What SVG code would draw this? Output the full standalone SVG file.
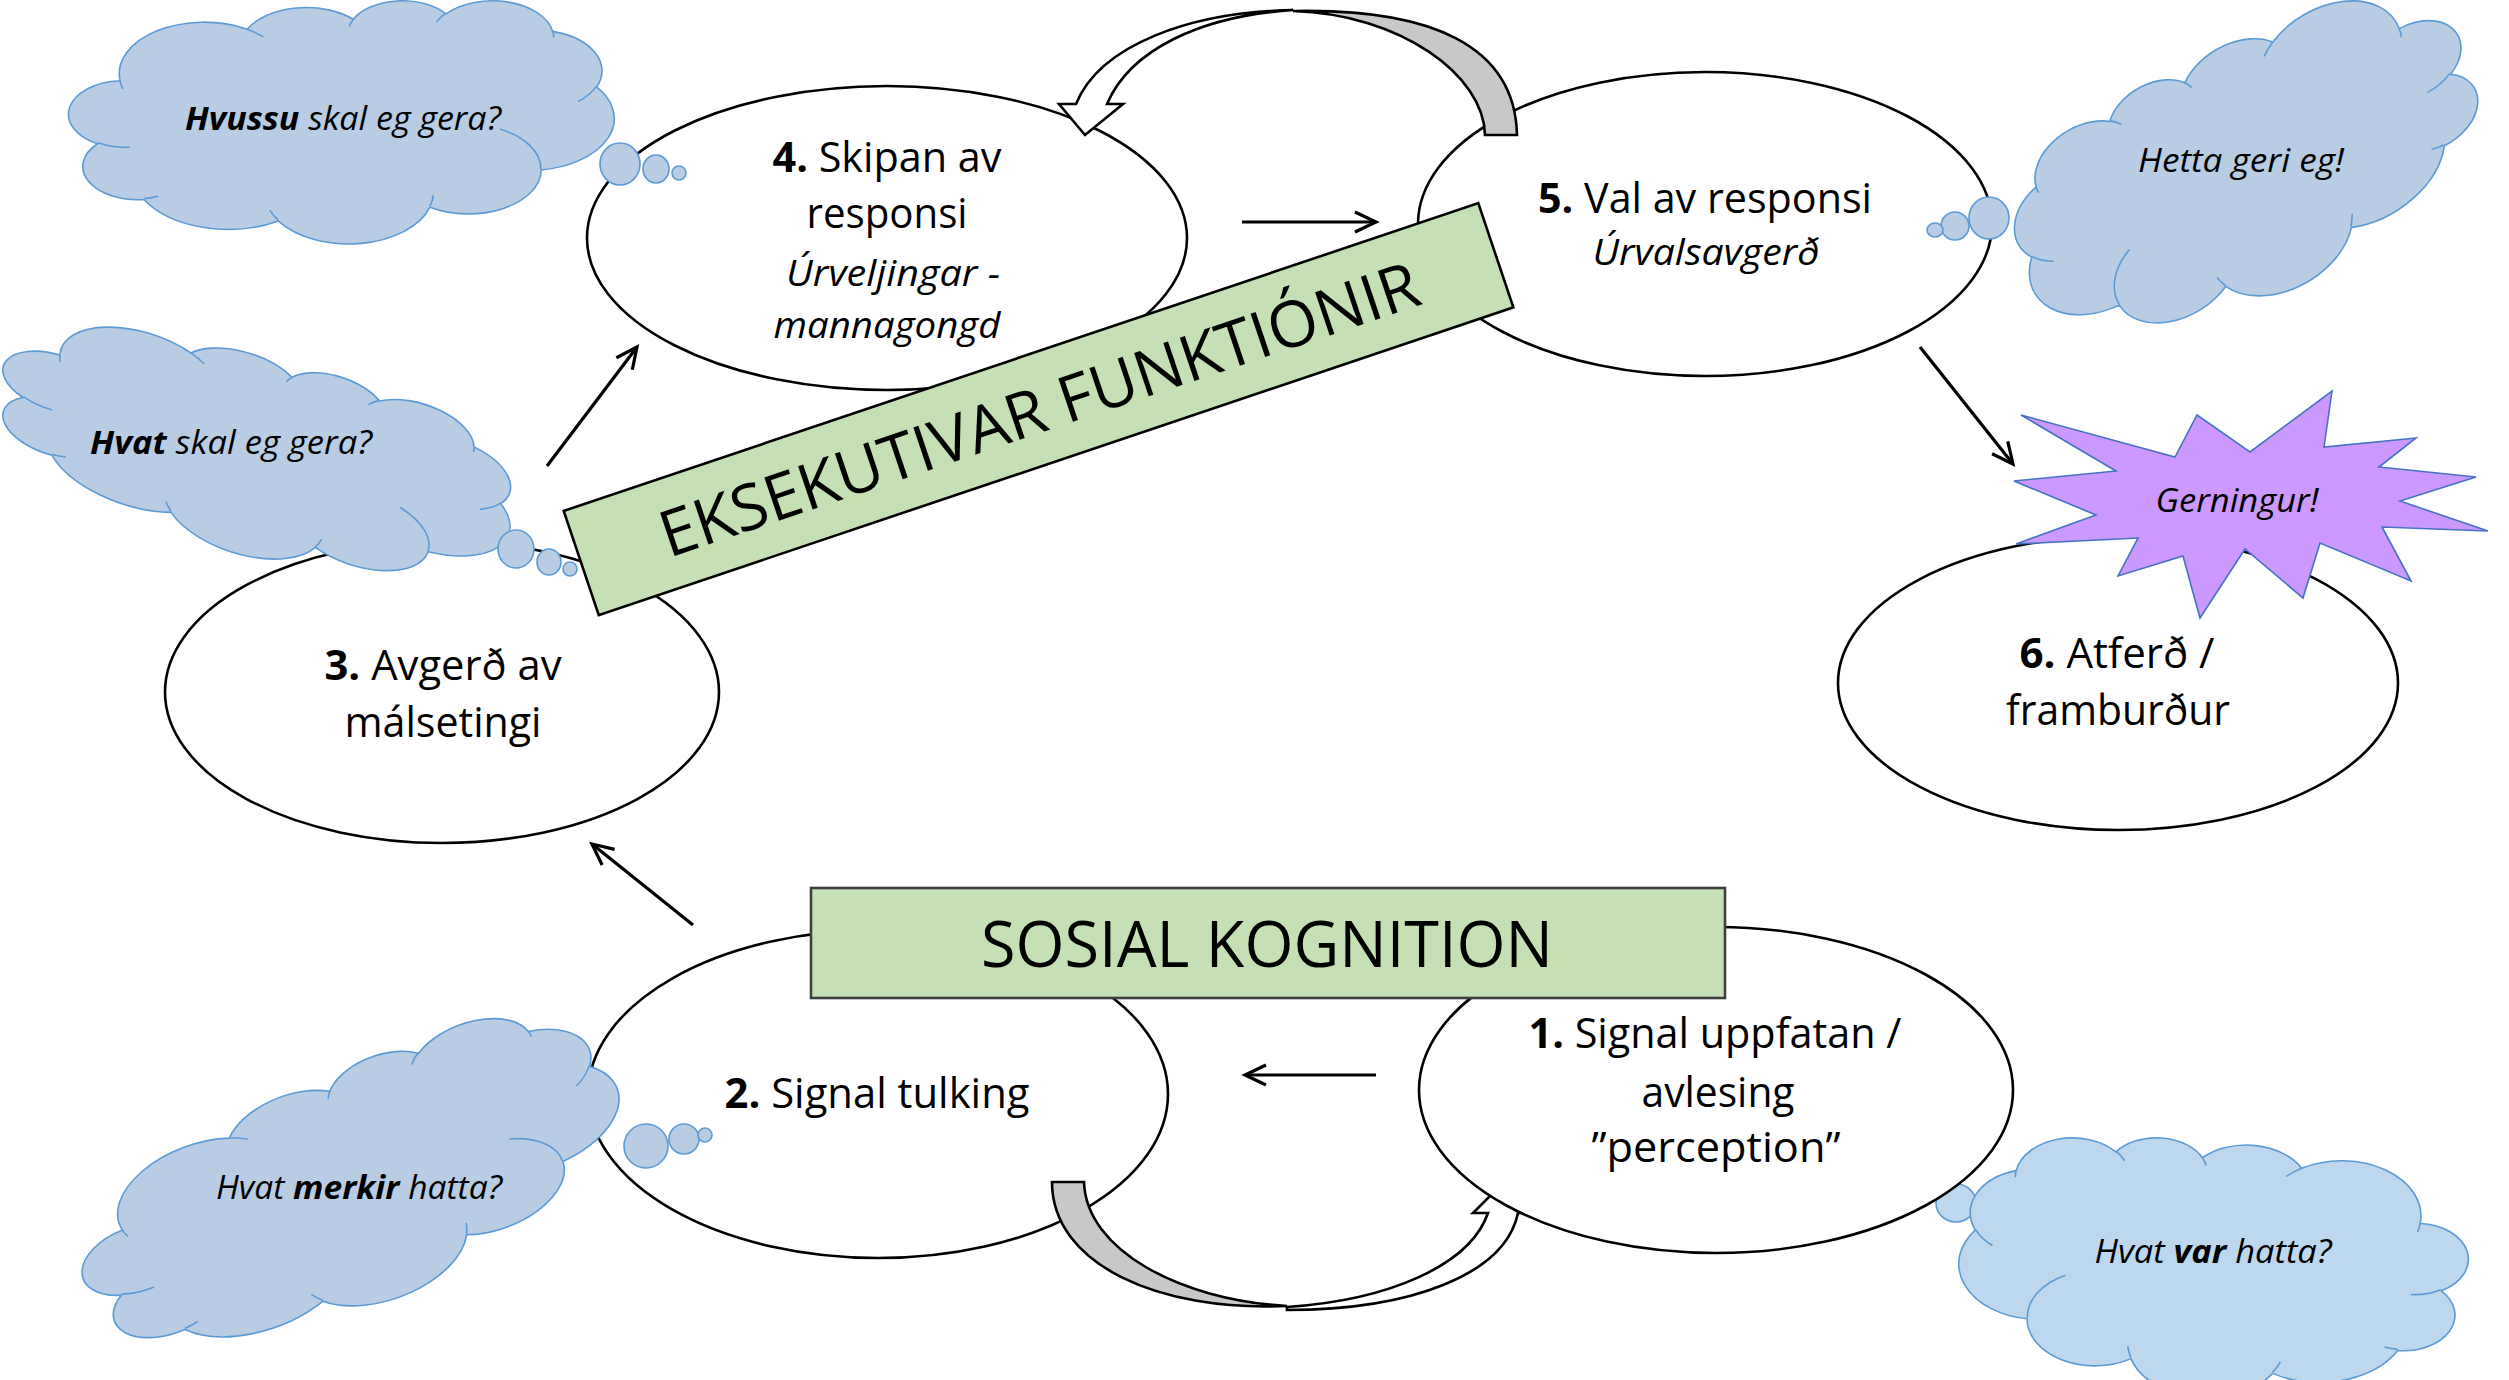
<svg xmlns="http://www.w3.org/2000/svg" width="2509" height="1380" viewBox="0 0 2509 1380">
<defs>
<style>
.node{fill:#fff;stroke:#000;stroke-width:2.6}
.t{font-family:"Open Sans","Liberation Sans",sans-serif;font-size:42px;fill:#000}
.it{font-style:italic;font-size:36px}
.ct{font-family:"Open Sans","Liberation Sans",sans-serif;font-size:32px;font-style:italic;fill:#000}
.b{font-weight:700}
.cloud{fill:#b8cce4;stroke:#5b9bd5}
.cloud2{fill:#bdd7ee;stroke:#5b9bd5}
.bub{stroke-width:1.6}
.band{stroke:#000;stroke-width:2.6;stroke-linejoin:miter}
.label{fill:#c5e0b4}
.conn{stroke:#000;stroke-width:3.2;fill:none;marker-end:url(#arr)}
.star{fill:#cc99ff;stroke:#4472c4;stroke-width:1.6}
</style>
<path id="cl" vector-effect="non-scaling-stroke" stroke-width="1.6" d="M9.03,33.26 A15.63,21.27 0 0 1 32.42,12.04 A12.34,16.82 0 0 1 51.98,7.95 A10.10,13.76 0 0 1 69.06,5.75 A11.24,15.27 0 0 1 88.70,12.92 A12.34,16.84 0 0 1 96.80,35.80 A15.68,21.34 0 0 1 86.59,69.93 A13.39,18.21 0 0 1 66.10,85.24 A15.63,21.33 0 0 1 38.15,90.91 A17.87,24.41 0 0 1 13.43,82.12 A10.09,13.70 0 0 1 4.89,59.16 A10.06,13.76 0 0 1 9.03,33.26 Z"/>
<path id="ci" fill="none" vector-effect="non-scaling-stroke" stroke-width="1.6" d="M10.86,60.60 A10.06,13.76 0 0 1 5.00,58.75 M16.04,80.78 A10.09,13.70 0 0 1 13.47,81.67 M38.14,90.49 A15.63,21.33 0 0 1 36.60,86.46 M66.73,80.44 A15.63,21.33 0 0 1 66.11,84.86 M79.00,53.13 A13.39,18.21 0 0 1 86.53,69.65 M96.75,35.54 A12.34,16.84 0 0 1 93.40,41.74 M88.71,12.56 A11.24,15.27 0 0 1 88.89,15.49 M67.31,9.15 A11.24,15.27 0 0 1 69.03,5.41 M51.25,10.93 A10.10,13.76 0 0 1 52.08,7.71 M32.41,12.02 A15.63,21.27 0 0 1 35.43,15.16 M9.55,36.55 A15.63,21.27 0 0 1 9.03,33.26"/>
<marker id="arr" markerUnits="userSpaceOnUse" markerWidth="30" markerHeight="30" refX="24" refY="15" orient="auto" viewBox="0 0 30 30">
<path d="M3,5 L24,15 L3,25" fill="none" stroke="#000" stroke-width="3.2"/>
</marker>
</defs>
<rect width="2509" height="1380" fill="#fff"/>

<g id="node-2">
<ellipse class="node" cx="878" cy="1094" rx="290" ry="164"/>
<text class="t" x="877" y="1108" text-anchor="middle" textLength="305" lengthAdjust="spacingAndGlyphs"><tspan class="b">2.</tspan> Signal tulking</text>
</g>
<g id="node-3">
<ellipse class="node" cx="442" cy="692" rx="277" ry="151"/>
<text class="t" x="443" y="680" text-anchor="middle" textLength="237" lengthAdjust="spacingAndGlyphs"><tspan class="b">3.</tspan> Avgerð av</text>
<text class="t" x="443" y="737" text-anchor="middle" textLength="197" lengthAdjust="spacingAndGlyphs">málsetingi</text>
</g>
<g id="node-4">
<ellipse class="node" cx="887" cy="238" rx="300" ry="152"/>
<text class="t" x="887" y="172" text-anchor="middle" textLength="229" lengthAdjust="spacingAndGlyphs"><tspan class="b">4.</tspan> Skipan av</text>
<text class="t" x="887" y="228" text-anchor="middle" textLength="161" lengthAdjust="spacingAndGlyphs">responsi</text>
<text class="t it" x="893" y="286" text-anchor="middle" textLength="214" lengthAdjust="spacingAndGlyphs">Úrveljingar -</text>
<text class="t it" x="887" y="338" text-anchor="middle" textLength="227" lengthAdjust="spacingAndGlyphs">mannagongd</text>
</g>
<g id="node-5">
<ellipse class="node" cx="1705" cy="224" rx="287" ry="152"/>
<text class="t" x="1705" y="213" text-anchor="middle" textLength="334" lengthAdjust="spacingAndGlyphs"><tspan class="b">5.</tspan> Val av responsi</text>
<text class="t it" x="1706" y="265" text-anchor="middle" textLength="227" lengthAdjust="spacingAndGlyphs">Úrvalsavgerð</text>
</g>
<g id="node-6">
<ellipse class="node" cx="2118" cy="683" rx="280" ry="147"/>
<text class="t" x="2117" y="668" text-anchor="middle" textLength="195" lengthAdjust="spacingAndGlyphs"><tspan class="b">6.</tspan> Atferð /</text>
<text class="t" x="2118" y="725" text-anchor="middle" textLength="224" lengthAdjust="spacingAndGlyphs">framburður</text>
</g>

<g id="loop-arrows">
<path class="band" fill="#c8c8c8" d="M1485,135 C1484,75 1400,14 1293,11 C1430,8 1515,45 1517,135 Z"/>
<path class="band" fill="#fff" d="M1076,104 C1100,45 1190,12 1293,10 C1200,16 1130,50 1107,104 L1123,104 L1085,135 L1059,104 Z"/>
<path class="band" fill="#c8c8c8" d="M1052,1182 L1084,1182 C1086,1250 1180,1300 1287,1306 C1160,1312 1052,1265 1052,1182 Z"/>
<path class="band" fill="#fff" d="M1287,1307 C1390,1300 1470,1265 1488,1213 L1473,1213 L1508,1178 L1543,1213 L1518,1213 C1505,1275 1410,1310 1287,1310 Z"/>
</g>

<g id="bubble-var">
<ellipse class="cloud2 bub" cx="1956" cy="1203" rx="20" ry="19"/>
</g>

<g id="node-1">
<ellipse class="node" cx="1716" cy="1090" rx="297" ry="163"/>
<text class="t" x="1715" y="1048" text-anchor="middle" textLength="373" lengthAdjust="spacingAndGlyphs"><tspan class="b">1.</tspan> Signal uppfatan /</text>
<text class="t" x="1718" y="1107" text-anchor="middle" textLength="153" lengthAdjust="spacingAndGlyphs">avlesing</text>
<text class="t" x="1716" y="1162" text-anchor="middle" textLength="249" lengthAdjust="spacingAndGlyphs">”perception”</text>
</g>

<g id="cloud-hvussu">
<use href="#cl" class="cloud" transform="translate(342.5,121.5) scale(5.43,2.43) translate(-50,-50)"/>
<use href="#ci" class="cloud" transform="translate(342.5,121.5) scale(5.43,2.43) translate(-50,-50)"/>
<ellipse class="cloud bub" cx="620" cy="164" rx="20" ry="21"/>
<ellipse class="cloud bub" cx="656" cy="169" rx="13" ry="14"/>
<ellipse class="cloud bub" cx="679" cy="173" rx="7" ry="7"/>
<text class="ct" x="343" y="130" text-anchor="middle" textLength="316" lengthAdjust="spacingAndGlyphs"><tspan class="b">Hvussu</tspan> skal eg gera?</text>
</g>

<g id="cloud-hvat-skal">
<use href="#cl" class="cloud" transform="translate(256,454) rotate(18) scale(5.3,2.0) translate(-50,-50)"/>
<use href="#ci" class="cloud" transform="translate(256,454) rotate(18) scale(5.3,2.0) translate(-50,-50)"/>
<ellipse class="cloud bub" cx="516" cy="549" rx="18" ry="19"/>
<ellipse class="cloud bub" cx="549" cy="562" rx="12" ry="13"/>
<ellipse class="cloud bub" cx="570" cy="569" rx="7" ry="7"/>
<text class="ct" x="231" y="454" text-anchor="middle" textLength="282" lengthAdjust="spacingAndGlyphs"><tspan class="b">Hvat</tspan> skal eg gera?</text>
</g>

<g id="cloud-merkir">
<use href="#cl" class="cloud" transform="translate(353,1188) rotate(-20) scale(5.64,2.35) translate(-50,-50)"/>
<use href="#ci" class="cloud" transform="translate(353,1188) rotate(-20) scale(5.64,2.35) translate(-50,-50)"/>
<ellipse class="cloud bub" cx="646" cy="1146" rx="22" ry="22"/>
<ellipse class="cloud bub" cx="684" cy="1139" rx="15" ry="15"/>
<ellipse class="cloud bub" cx="705" cy="1135" rx="7" ry="7"/>
<text class="ct" x="359" y="1199" text-anchor="middle" textLength="286" lengthAdjust="spacingAndGlyphs">Hvat <tspan class="b">merkir</tspan> hatta?</text>
</g>

<g id="cloud-hetta">
<use href="#cl" class="cloud" transform="translate(2248,169) rotate(-31) scale(-4.93,2.53) translate(-50,-50)"/>
<use href="#ci" class="cloud" transform="translate(2248,169) rotate(-31) scale(-4.93,2.53) translate(-50,-50)"/>
<ellipse class="cloud bub" cx="1989" cy="218" rx="20" ry="21"/>
<ellipse class="cloud bub" cx="1955" cy="226" rx="14" ry="14"/>
<ellipse class="cloud bub" cx="1935" cy="230" rx="8" ry="7"/>
<text class="ct" x="2241" y="172" text-anchor="middle" textLength="206" lengthAdjust="spacingAndGlyphs">Hetta geri eg!</text>
</g>

<g id="cloud-var">
<use href="#cl" class="cloud2" transform="translate(2212.5,1267) scale(-5.07,2.6) translate(-50,-50)"/>
<use href="#ci" class="cloud2" transform="translate(2212.5,1267) scale(-5.07,2.6) translate(-50,-50)"/>
<text class="ct" x="2213" y="1263" text-anchor="middle" textLength="237" lengthAdjust="spacingAndGlyphs">Hvat <tspan class="b">var</tspan> hatta?</text>
</g>

<g id="burst-gerningur">
<polygon class="star" points="2021,415 2175,457 2197,415 2250,452 2332,391 2324,447 2416,438 2379,467 2476,477 2400,501 2488,531 2382,527 2411,581 2320,543 2303,598 2245,549 2200,618 2183,556 2118,576 2138,538 2016,544 2096,515 2014,481 2116,471"/>
<text class="ct" x="2237" y="512" text-anchor="middle" textLength="163" lengthAdjust="spacingAndGlyphs">Gerningur!</text>
</g>

<g id="label-eksekutivar" transform="translate(1039,409) rotate(-18.6)">
<rect class="label" x="-483" y="-55" width="965" height="110" stroke="#000" stroke-width="2.6"/>
<text class="t" x="0" y="23" font-size="64" text-anchor="middle" textLength="797" lengthAdjust="spacingAndGlyphs" style="font-size:64px">EKSEKUTIVAR FUNKTIÓNIR</text>
</g>

<g id="label-sosial">
<rect class="label" x="811" y="888" width="914" height="110" stroke="#3f3f3f" stroke-width="2.6"/>
<text class="t" x="1267" y="967" text-anchor="middle" textLength="572" lengthAdjust="spacingAndGlyphs" style="font-size:64px">SOSIAL KOGNITION</text>
</g>

<g id="connectors">
<line class="conn" x1="547" y1="466" x2="637" y2="347"/>
<line class="conn" x1="1242" y1="222" x2="1376" y2="222"/>
<line class="conn" x1="1920" y1="347" x2="2013" y2="464"/>
<line class="conn" x1="693" y1="925" x2="592" y2="844"/>
<line class="conn" x1="1376" y1="1075" x2="1245" y2="1075"/>
</g>
</svg>
